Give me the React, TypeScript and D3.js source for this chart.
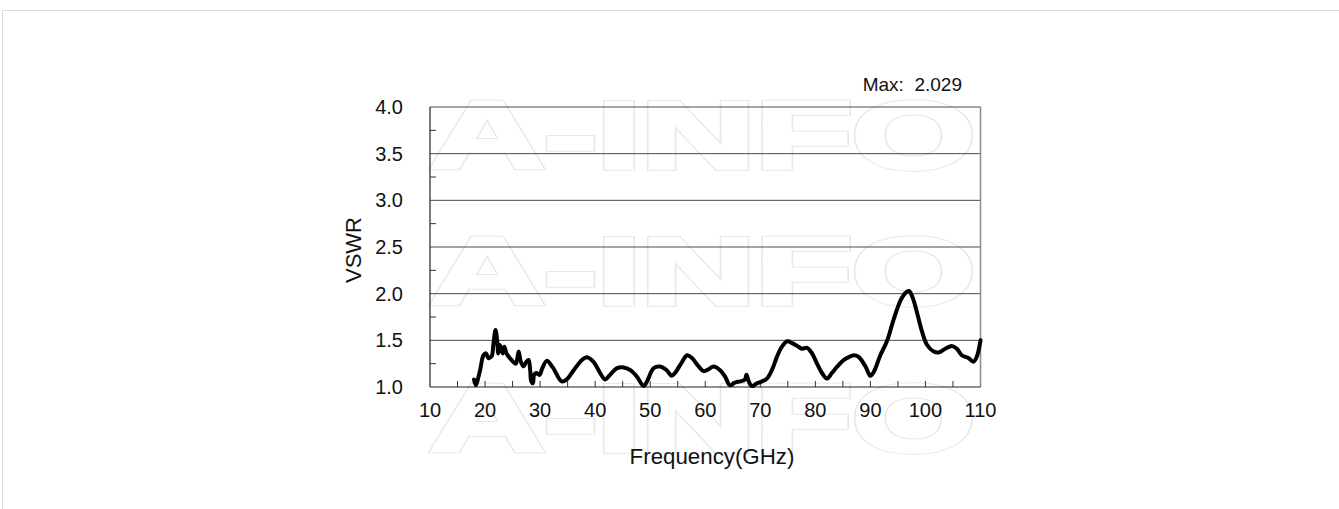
import * as d3 from 'd3';

const freq = [
  18.0, 18.3, 19.1, 19.7, 20.2, 20.6, 21.2, 21.5, 21.9, 22.2, 22.4, 22.7, 23.2, 23.5, 23.9, 24.5, 25.1, 25.6,
  26.1, 26.5, 27.0, 27.5, 27.9, 28.2, 28.4, 28.7, 28.9, 29.3, 29.9, 30.4, 31.2, 32.3, 33.9, 34.8, 36.1, 37.6,
  38.5, 39.7, 40.9, 41.8, 42.7, 43.9, 45.2, 46.4, 47.6, 48.8, 49.5, 50.6, 51.8, 53.0, 53.9, 54.5, 55.8, 56.7,
  57.6, 58.8, 59.7, 60.6, 61.5, 62.7, 63.6, 64.5, 65.5, 66.4, 67.2, 67.5, 67.9, 68.5, 69.4, 70.3, 71.2, 72.1,
  73.0, 73.9, 74.9, 75.8, 76.7, 77.6, 78.5, 79.4, 80.3, 81.2, 82.1, 83.0, 84.0, 85.2, 86.1, 87.0, 87.9, 89.1,
  90.0, 90.6, 91.8, 93.0, 94.2, 95.5, 96.4, 97.0, 97.6, 98.5, 99.4, 100.3, 101.5, 102.4, 103.6, 104.8, 105.7,
  106.6, 107.8, 108.7, 109.3, 110.0,
];

const vswr = [
  1.08, 1.02, 1.18, 1.34, 1.36, 1.31, 1.33, 1.45, 1.61, 1.5, 1.36, 1.45, 1.36, 1.43, 1.36, 1.31, 1.27, 1.25,
  1.38, 1.27, 1.22, 1.27, 1.29, 1.18, 1.06, 1.04, 1.13, 1.15, 1.13, 1.2, 1.28, 1.21, 1.06, 1.08, 1.18, 1.29,
  1.32, 1.27, 1.15, 1.08, 1.13, 1.2, 1.21, 1.18, 1.11, 1.01, 1.07, 1.2, 1.22, 1.18, 1.12, 1.15, 1.27, 1.34,
  1.31, 1.22, 1.17, 1.19, 1.22, 1.18, 1.11, 1.02, 1.05, 1.06, 1.08, 1.13, 1.06, 1.01, 1.04, 1.06, 1.09, 1.18,
  1.32, 1.43, 1.49, 1.47, 1.44, 1.41, 1.42, 1.36, 1.25, 1.15, 1.09, 1.15, 1.22, 1.29, 1.32, 1.34, 1.32, 1.22,
  1.12, 1.16, 1.34, 1.49, 1.72, 1.93, 2.01, 2.029, 1.97, 1.79, 1.59, 1.45, 1.38, 1.37, 1.41, 1.44, 1.41,
  1.34, 1.31, 1.27, 1.32, 1.5,
];

const xTicks = [10, 20, 30, 40, 50, 60, 70, 80, 90, 100, 110];
const xMinor = d3.range(15, 110, 5);
const yTicks = [1.0, 1.5, 2.0, 2.5, 3.0, 3.5, 4.0];
const yMinor = [1.25, 1.75, 2.25, 2.75, 3.25, 3.75];
const watermarkRows = [168, 304, 451];

const W = 1339;
const H = 509;
const font = '"Liberation Sans", Arial, sans-serif';

export default function App() {
  const x = d3.scaleLinear().domain([10, 110]).range([430, 980.5]);
  const y = d3.scaleLinear().domain([1, 4]).range([387, 107]);

  const pts = freq.map((f, i) => [f, vswr[i]] as [number, number]);
  const line = d3
    .line<[number, number]>()
    .x((d) => x(d[0]))
    .y((d) => y(d[1]))
    .curve(d3.curveCatmullRom.alpha(0.5));

  const maxV = d3.max(vswr) ?? 0;

  return (
    <svg
      width={W}
      height={H}
      style={{ position: 'absolute', left: 0, top: 0, background: '#fff' }}
      fontFamily={font}
    >
      <rect x={0} y={0} width={W} height={H} fill="#fff" />
      {/* page frame */}
      <line x1={2.5} x2={2.5} y1={10} y2={H} stroke="#dcdcdc" />
      <line x1={2} x2={W} y1={10.5} y2={10.5} stroke="#dcdcdc" />

      {/* watermark */}
      {watermarkRows.map((wy, i) => (
        <g key={i}>
          <text
            x={430}
            y={wy}
            fontSize={94}
            fontWeight="bold"
            textLength={545}
            lengthAdjust="spacingAndGlyphs"
            fill="none"
            stroke="#e8e8e8"
            strokeWidth={5.5}
          >
            A-INFO
          </text>
          <text
            x={430}
            y={wy}
            fontSize={94}
            fontWeight="bold"
            textLength={545}
            lengthAdjust="spacingAndGlyphs"
            fill="#fff"
            stroke="#fff"
            strokeWidth={3.5}
          >
            A-INFO
          </text>
        </g>
      ))}

      {/* grid */}
      {yTicks.slice(1).map((t) => (
        <line key={t} x1={x(10)} x2={x(110)} y1={y(t)} y2={y(t)} stroke="#4a4a4a" strokeWidth={1} />
      ))}
      {yMinor.map((t) => (
        <line key={t} x1={x(10)} x2={x(10) + 6} y1={y(t)} y2={y(t)} stroke="#333" strokeWidth={1} />
      ))}
      {xMinor.map((t) => (
        <line key={t} x1={x(t)} x2={x(t)} y1={y(1)} y2={y(1) - 6} stroke="#333" strokeWidth={1} />
      ))}

      {/* frame */}
      <line x1={x(110)} x2={x(110)} y1={y(4)} y2={y(1)} stroke="#8a8a8a" strokeWidth={1.5} />
      <line x1={x(10)} x2={x(10)} y1={y(4)} y2={y(1)} stroke="#222" strokeWidth={1.2} />
      <line x1={x(10)} x2={x(110)} y1={y(1)} y2={y(1)} stroke="#222" strokeWidth={1.2} />

      {/* curve */}
      <path d={line(pts) ?? ''} fill="none" stroke="#000" strokeWidth={4} strokeLinejoin="round" strokeLinecap="round" />

      {/* y tick labels */}
      {yTicks.map((t) => (
        <text key={t} x={403} y={y(t) + 7} textAnchor="end" fontSize={20} fill="#111">
          {t.toFixed(1)}
        </text>
      ))}
      {/* x tick labels */}
      {xTicks.map((t) => (
        <text key={t} x={x(t)} y={417} textAnchor="middle" fontSize={20} fill="#111">
          {t}
        </text>
      ))}

      <text transform={`translate(361,250) rotate(-90)`} textAnchor="middle" fontSize={22} fill="#111">
        VSWR
      </text>
      <text x={712} y={464} textAnchor="middle" fontSize={22.3} fill="#111">
        Frequency(GHz)
      </text>
      <text x={962} y={91} textAnchor="end" fontSize={19} fill="#111" style={{ whiteSpace: 'pre' }}>
        {`Max:  ${maxV.toFixed(3)}`}
      </text>
    </svg>
  );
}
